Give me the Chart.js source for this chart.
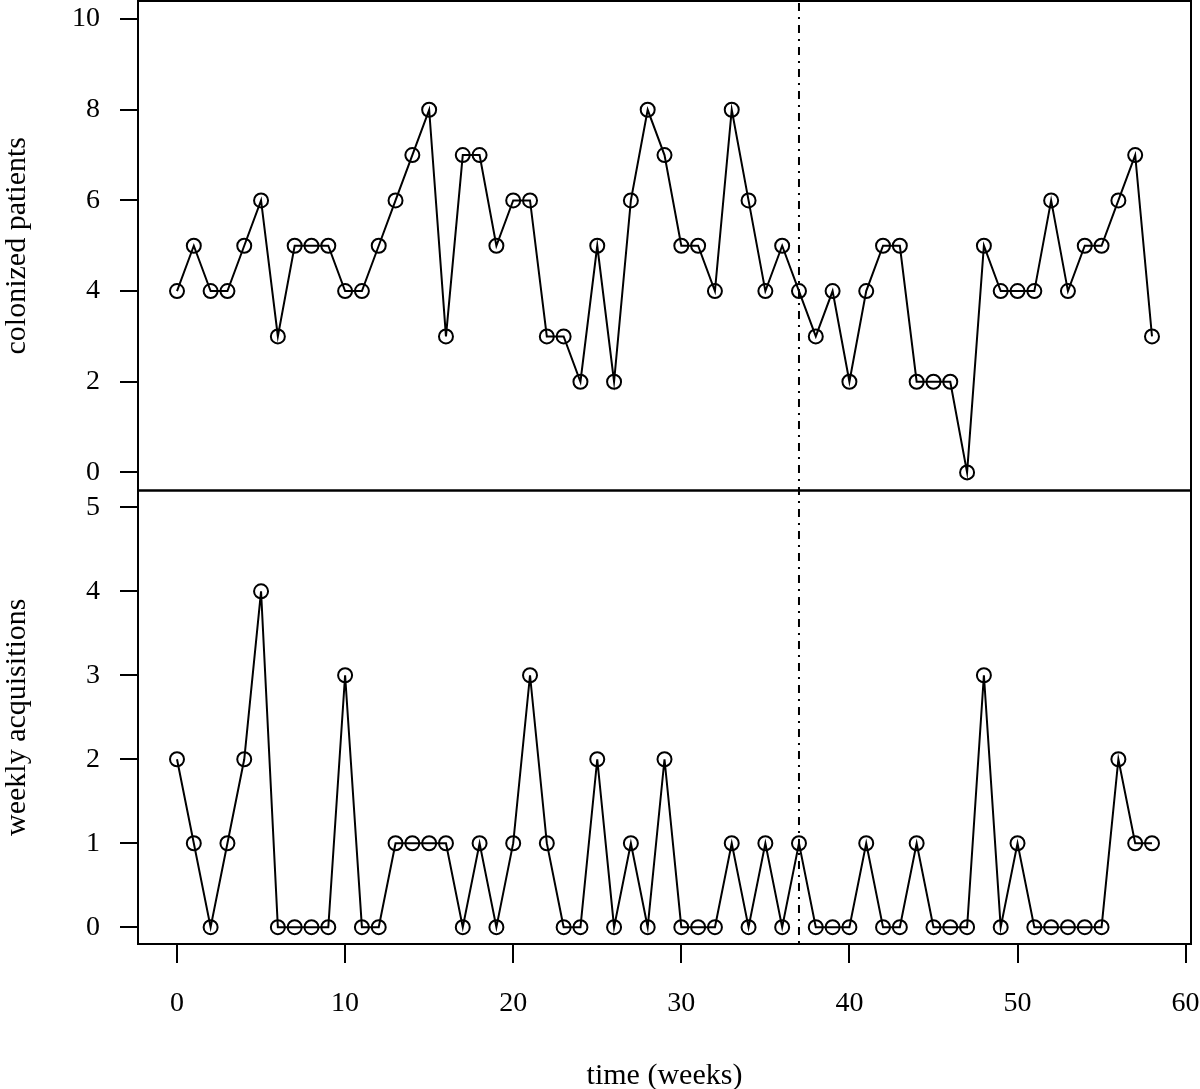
<!DOCTYPE html>
<html>
<head>
<meta charset="utf-8">
<script src="https://cdn.jsdelivr.net/npm/chart.js@4.4.1/dist/chart.umd.min.js"></script>
<style>
  body { margin: 0; background: #fff; }
  #chartWeeks { display: block; }
</style>
</head>
<body>
<canvas id="chartWeeks" width="1200" height="1089"></canvas>
<script>
// weeks 0..58
const weeks = [0,1,2,3,4,5,6,7,8,9,10,11,12,13,14,15,16,17,18,19,20,21,22,23,24,25,26,27,28,29,
  30,31,32,33,34,35,36,37,38,39,40,41,42,43,44,45,46,47,48,49,50,51,52,53,54,55,56,57,58];
const colonized = [4,5,4,4,5,6,3,5,5,5,4,4,5,6,7,8,3,7,7,5,6,6,3,3,2,5,2,6,8,7,
  5,5,4,8,6,4,5,4,3,4,2,4,5,5,2,2,2,0,5,4,4,4,6,4,5,5,6,7,3];
const acquisitions = [2,1,0,1,2,4,0,0,0,0,3,0,0,1,1,1,1,0,1,0,1,3,1,0,0,2,0,1,0,2,
  0,0,0,1,0,1,0,1,0,0,0,1,0,0,1,0,0,0,3,0,1,0,0,0,0,0,2,1,1];
const xTicks = [0,10,20,30,40,50,60];
const topTicks = [0,2,4,6,8,10];
const bottomTicks = [0,1,2,3,4,5];
const interventionWeek = 37;

const tickFont = { family: 'Liberation Serif', size: 28 };
const titleFont = { family: 'Liberation Serif', size: 30 };

// pas de marge automatique pour les labels qui débordent
function noPadding(s) {
  s.paddingTop = 0;
  s.paddingBottom = 0;
  s.paddingLeft = 0;
  s.paddingRight = 0;
}

// cadres des deux panneaux + ligne verticale
const panelFrame = {
  id: 'panelFrame',
  afterDatasetsDraw(chart) {
    const { ctx, chartArea, scales } = chart;
    ctx.save();
    ctx.strokeStyle = '#000';
    ctx.lineWidth = 2;
    [scales.yTop, scales.yBot].forEach(s => {
      ctx.strokeRect(chartArea.left, s.top, chartArea.right - chartArea.left, s.bottom - s.top);
    });
    const xv = scales.x.getPixelForValue(interventionWeek);
    ctx.setLineDash([8, 6, 2, 6]);
    ctx.beginPath();
    ctx.moveTo(xv, chartArea.top + 2);
    ctx.lineTo(xv, chartArea.bottom);
    ctx.stroke();
    ctx.restore();
  }
};

function yAxis(title, min, max, ticks, weight, stackWeight) {
  return {
    type: 'linear',
    position: 'left',
    stack: 'panels',
    stackWeight: stackWeight,
    weight: weight,
    min: min,
    max: max,
    afterBuildTicks: s => { s.ticks = ticks.map(v => ({ value: v })); },
    afterFit: s => { s.width = 138; noPadding(s); },
    grid: { drawOnChartArea: false, drawTicks: true, tickLength: 18, color: '#000', lineWidth: 2 },
    border: { display: false },
    ticks: { color: '#000', font: tickFont, padding: 20 },
    title: { display: true, text: title, color: '#000', font: titleFont, padding: { top: -1, bottom: 0 } }
  };
}

const ctx = document.getElementById('chartWeeks').getContext('2d');
const chartWeeks = new Chart(ctx, {
  type: 'line',
  data: {
    datasets: [
      {
        label: 'colonized patients',
        yAxisID: 'yTop',
        data: weeks.map((w, i) => ({ x: w, y: colonized[i] })),
        borderColor: '#000',
        borderWidth: 2,
        pointRadius: 7,
        pointBorderWidth: 2,
        pointBorderColor: '#000',
        pointBackgroundColor: 'rgba(0,0,0,0)',
        tension: 0
      },
      {
        label: 'weekly acquisitions',
        yAxisID: 'yBot',
        data: weeks.map((w, i) => ({ x: w, y: acquisitions[i] })),
        borderColor: '#000',
        borderWidth: 2,
        pointRadius: 7,
        pointBorderWidth: 2,
        pointBorderColor: '#000',
        pointBackgroundColor: 'rgba(0,0,0,0)',
        tension: 0
      }
    ]
  },
  options: {
    responsive: false,
    animation: false,
    layout: { autoPadding: false, padding: { top: 1, right: 9, left: 0, bottom: 0 } },
    plugins: { legend: { display: false }, tooltip: { enabled: false } },
    scales: {
      x: {
        type: 'linear',
        position: 'bottom',
        min: -2.32,
        max: 60.32,
        afterBuildTicks: s => { s.ticks = xTicks.map(v => ({ value: v })); },
        afterFit: s => { s.height = 145; noPadding(s); },
        grid: { drawOnChartArea: false, drawTicks: true, tickLength: 19, color: '#000', lineWidth: 2 },
        border: { display: false },
        ticks: { color: '#000', font: tickFont, padding: 24, maxRotation: 0 },
        title: { display: true, text: 'time (weeks)', color: '#000', font: titleFont, padding: { top: 0, bottom: -5 } }
      },
      yTop: yAxis('colonized patients', -0.4, 10.4, topTicks, 1, 489.3),
      yBot: yAxis('weekly acquisitions', -0.2, 5.2, bottomTicks, 0, 453.3)
    }
  },
  plugins: [panelFrame]
});
</script>
</body>
</html>
